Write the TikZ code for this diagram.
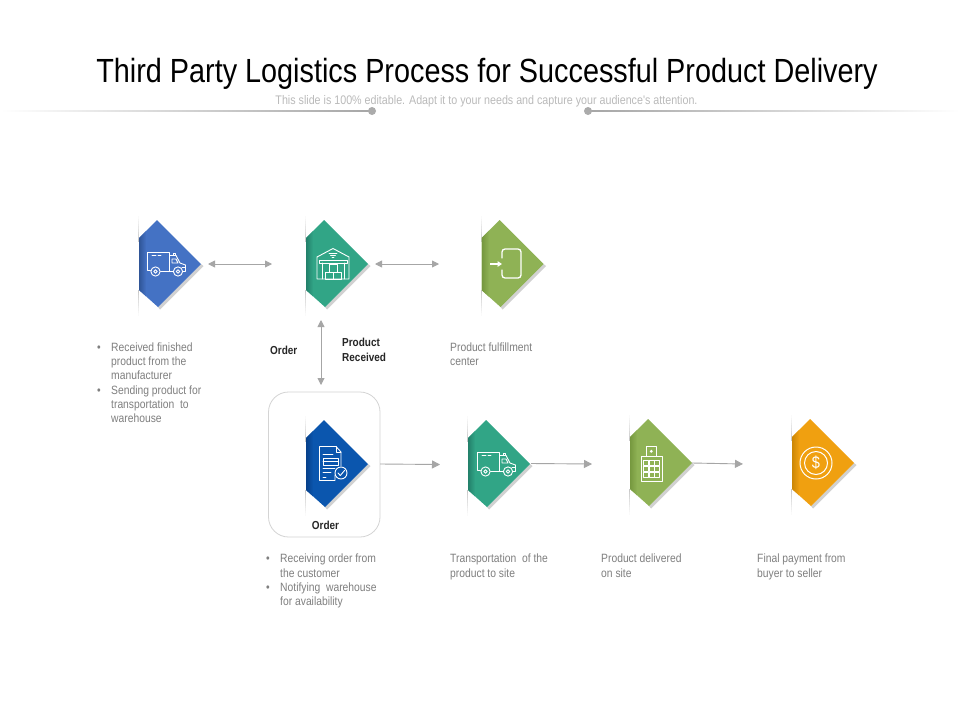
\documentclass[tikz,border=0pt]{standalone}
\usepackage{fontspec}
\setmainfont{Liberation Sans}
\newfontfamily\narrow[FakeStretch=0.86]{Liberation Sans}
\usetikzlibrary{arrows.meta,calc}
\definecolor{txtgray}{HTML}{7F7F7F}
\definecolor{conn}{HTML}{A6A6A6}
\definecolor{cblue}{HTML}{4472C4}\definecolor{dblue}{HTML}{2F5597}
\definecolor{cteal}{HTML}{31A586}\definecolor{dteal}{HTML}{23806A}
\definecolor{cgreen}{HTML}{8FB255}\definecolor{dgreen}{HTML}{76983F}
\definecolor{cnavy}{HTML}{0B56AE}\definecolor{dnavy}{HTML}{07408A}
\definecolor{corange}{HTML}{F0A010}\definecolor{dorange}{HTML}{CC8706}
\tikzset{
  x=1pt,y=-1pt,
  body/.style={anchor=north west,inner sep=0pt,align=left,text=txtgray,font=\narrow\fontsize{12}{14.35}\selectfont},
  boldlabel/.style={inner sep=0pt,align=left,text=black!85,font=\narrow\bfseries\fontsize{11.6}{14.35}\selectfont},
  conline/.style={draw=conn,line width=0.9pt},
  both/.style={conline,{Triangle[length=7pt,width=7pt]}-{Triangle[length=7pt,width=7pt]}},
  fwd/.style={conline,-{Triangle[length=8pt,width=8pt]}},
  ic/.style={draw=white,line width=0.9pt,line join=round,line cap=round},
  pin/.style={inner sep=0pt,minimum size=0pt},
}
\newcommand{\bl}{\llap{•\hspace{10.5pt}}}
% name, left x, centre y, colour, dark colour
\newcommand{\diam}[5]{%
  \fill[black!18] ({#2+62},{#3}) -- ({#2+64.5},{#3+2}) -- ({#2+21},{#3+45.5}) -- ({#2+19},{#3+43}) -- cycle;
  \foreach \st in {0,...,9}{%
    \pgfmathtruncatemacro{\gv}{2+2.2*\st}%
    \fill[black!\gv] ({#2-0.7},{#3-48+2.6*\st}) rectangle ({#2+0.3},{#3-45.4+2.6*\st});
    \fill[black!\gv] ({#2-0.7},{#3+52-2.6*\st}) rectangle ({#2+0.3},{#3+49.4-2.6*\st});
  }%
  \fill[#4] (#2,{#3-26}) -- ({#2+18},{#3-44}) -- ({#2+62},{#3}) -- ({#2+19},{#3+43}) -- (#2,{#3+26}) -- cycle;
  \begin{scope}
    \clip (#2,{#3-26}) -- ({#2+18},{#3-44}) -- ({#2+62},{#3}) -- ({#2+19},{#3+43}) -- (#2,{#3+26}) -- cycle;
    \foreach \st in {0,...,6}{%
      \pgfmathtruncatemacro{\ov}{100-14*\st}%
      \fill[#5!\ov!#4] ({#2+\st},{#3-50}) rectangle ({#2+\st+1.05},{#3+50});
    }%
  \end{scope}
  \node[pin] (#1) at ({#2+31},#3) {};
}
\newcommand{\truck}[2]{%
  \begin{scope}[shift={(#1,#2)}]
    \draw[ic] (3.5,19) -- (0.5,19) -- (0.5,1) -- (22.5,1) -- (22.5,20);
    \draw[ic] (23,4.5) -- (29,4.5) -- (33,12) -- (38.5,14) -- (38.5,20.5) -- (36,20.5);
    \draw[ic] (26,20.5) -- (13.5,20.5);
    \draw[ic] (25,8) -- (29,8) -- (31,12) -- (25,12) -- cycle;
    \draw[ic] (26,4.5) -- (26,2) -- (28.5,2) -- (28.5,4.5);
    \draw[ic] (5,4.5) -- (9,4.5) (11,4.5) -- (14,4.5);
    \draw[ic] (8.5,20.5) circle (4.6) (8.5,20.5) circle (1.7);
    \draw[ic] (31,20.5) circle (4.6) (31,20.5) circle (1.7);
    \draw[ic] (35,16.5) -- (38.5,16.5);
  \end{scope}
}
\begin{document}
\begin{tikzpicture}
\useasboundingbox (0,0) rectangle (960,720);
\fill[white] (0,0) rectangle (960,720);
% header
\node[inner sep=0pt,anchor=base] (title) at (487,82) {\narrow\fontsize{33.5}{38}\selectfont Third Party Logistics Process for Successful Product Delivery};
\node[inner sep=0pt,anchor=base] (sub) at (486.5,104.2) {\narrow\color{black!27}\fontsize{12.45}{14}\selectfont This slide is 100\% editable. Adapt it to your needs and capture your audience's attention.};
\fill[left color=white,right color=black!35] (0,110.5) rectangle (372,111.7);
\fill[left color=black!35,right color=white] (588,110.5) rectangle (960,111.7);
\fill[black!33] (372,111) circle (4);
\fill[black!33] (588,111) circle (4);
% order card
\draw[draw=black!17,line width=0.8pt,rounded corners=20pt] (268.5,392) rectangle (380,537);
% diamonds
\diam{dA}{139}{264}{cblue}{dblue}
\diam{dB}{306}{264}{cteal}{dteal}
\diam{dC}{481.5}{264}{cgreen}{dgreen}
\diam{dD}{306}{464}{cnavy}{dnavy}
\diam{dE}{468}{464}{cteal}{dteal}
\diam{dF}{630}{463}{cgreen}{dgreen}
\diam{dG}{792}{463}{corange}{dorange}
% icons
\truck{147}{251}
\truck{477}{451}
% warehouse
\draw[ic] (317,279) -- (317,257) -- (333,248.5) -- (349,257) -- (349,279) -- cycle;
\draw[ic] (319,260) rectangle (347,263);
\draw[ic] (322,263) -- (322,279) (344,263) -- (344,279);
\draw[ic] (329,264.5) rectangle (337,272) (325,272) rectangle (333,279) (333,272) rectangle (341,279);
\draw[ic,line width=0.6pt] (329,253) -- (337,253) (330.5,255) -- (335.5,255) (332,257) -- (334,257);
% door with arrow
\draw[ic,line width=1.3pt,rounded corners=3pt] (502,258) -- (502,249) -- (521,249) -- (521,278) -- (502,278) -- (502,270);
\draw[white,line width=1.1pt,-{Triangle[length=4.5pt,width=5.5pt]}] (490,264) -- (502,264);
% document
\draw[ic] (335,475) -- (335,480.5) -- (319.5,480.5) -- (319.5,446.5) -- (336,446.5) -- (341,452) -- (341,466);
\draw[ic] (336,446.5) -- (336,452) -- (341,452);
\draw[ic] (323,454) -- (333,454) (323,458) rectangle (338,465);
\draw[ic] (323,461.5) -- (338,461.5) (323,468.5) -- (335,468.5) (323,472) -- (331,472) (323,477) -- (326,477);
\fill[cnavy] (341,473) circle (6);
\draw[ic] (341,473) circle (6);
\draw[ic] (338,473) -- (340.3,475.5) -- (344.5,470.5);
% clipboard
\draw[ic] (646.7,456) -- (641.5,456) -- (641.5,481) -- (662,481) -- (662,456) -- (656,456);
\draw[ic] (646.7,456) -- (646.7,446.5) -- (656,446.5) -- (656,456) -- cycle;
\fill[white] (651.3,451.3) circle (1.6);
\foreach \cx in {643.8,649.3,654.8}{\foreach \cy in {460,466.2,472.4}{\draw[ic,line width=0.75pt] (\cx,\cy) rectangle ++(4.6,5);}}
% coin
\draw[white,line width=1pt] (816,463) circle (16) (816,463) circle (11.5);
\node[pin,text=white,font=\narrow\fontsize{17}{17}\selectfont] (dollar) at (816,463) {\$};
% connectors
\coordinate (a1) at (208,264); \coordinate (a2) at (272,264);
\coordinate (b1) at (375,264); \coordinate (b2) at (439,264);
\coordinate (c1) at (321,320); \coordinate (c2) at (321,385);
\coordinate (e1) at (380,464); \coordinate (e2) at (440,464.5);
\coordinate (f1) at (531,463.5); \coordinate (f2) at (592,464);
\coordinate (g1) at (692,463); \coordinate (g2) at (743,464);
\draw[both] (a1) -- (a2);
\draw[both] (b1) -- (b2);
\draw[both] (c1) -- (c2);
\draw[fwd] (e1) -- (e2);
\draw[fwd] (f1) -- (f2);
\draw[fwd] (g1) -- (g2);
% labels
\node[boldlabel,anchor=west] (lorder) at (270,350) {Order};
\node[boldlabel,anchor=west] (lrec) at (342,350) {Product\\Received};
\node[boldlabel,anchor=center] (lcard) at (325.5,525) {Order};
\node[body] (tA) at (111,342.3) {\bl Received finished\\product from the\\manufacturer\\\bl Sending product for\\transportation\ \ to\\warehouse};
\node[body] (tC) at (450,342.3) {Product fulfillment\\center};
\node[body] (tD) at (280,554) {\bl Receiving order from\\the customer\\\bl Notifying\ \ warehouse\\for availability};
\node[body] (tE) at (450,554) {Transportation\ \ of the\\product to site};
\node[body] (tF) at (601,554) {Product delivered\\on site};
\node[body] (tG) at (757,554) {Final payment from\\buyer to seller};
\end{tikzpicture}
\end{document}
